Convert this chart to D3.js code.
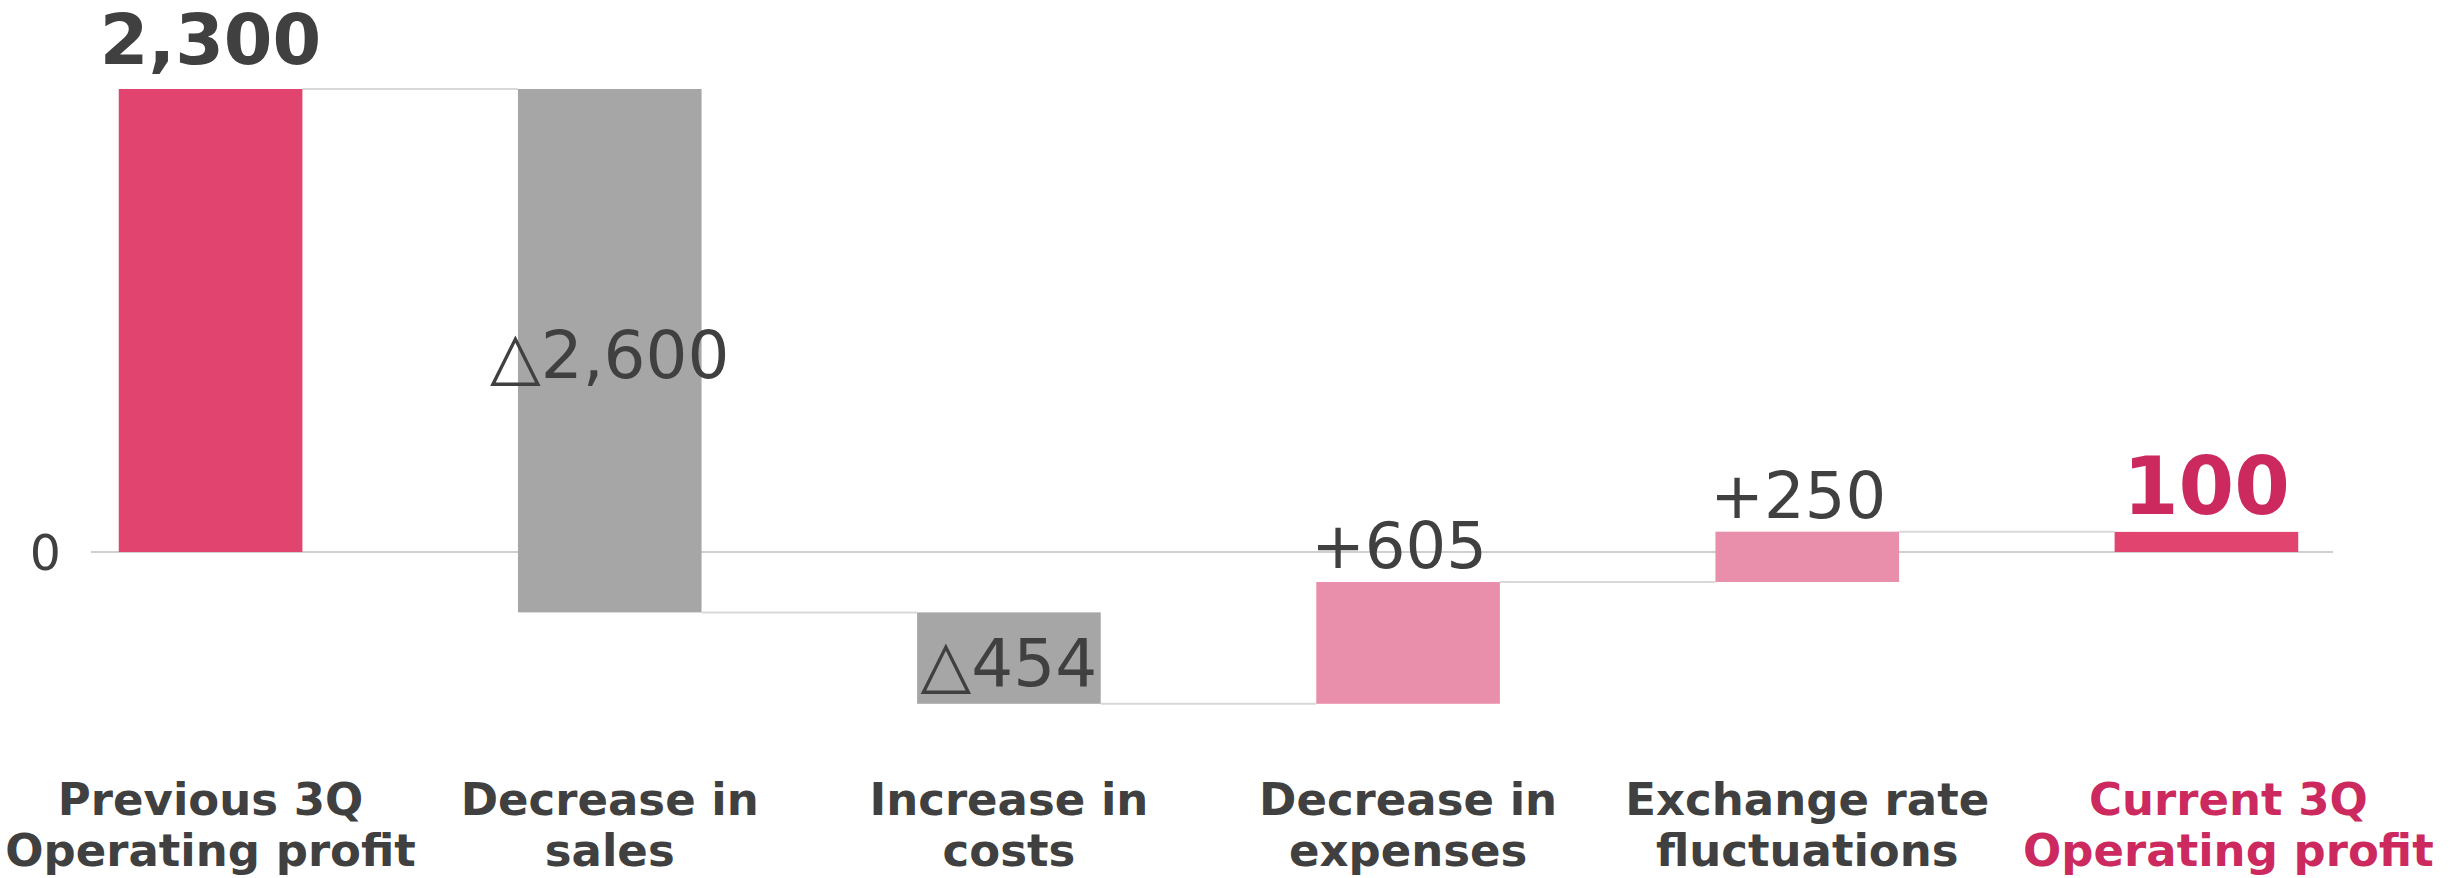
<!DOCTYPE html>
<html>
<head>
<meta charset="utf-8">
<script src="https://cdn.jsdelivr.net/npm/d3@7"></script>
<style>
  html, body { margin: 0; padding: 0; background: #ffffff; }
  svg { display: block; }
  text { font-family: "DejaVu Sans", Verdana, sans-serif; }
</style>
</head>
<body>
<svg id="chart" width="2453" height="878"></svg>
<script>
// ---- data ----
const categories = [
  "Previous 3Q\nOperating profit",
  "Decrease in\nsales",
  "Increase in\ncosts",
  "Decrease in\nexpenses",
  "Exchange rate\nfluctuations",
  "Current 3Q\nOperating profit"
];
const values = [2300, -2600, -454, 605, 250, 100];
const kinds = ["total", "delta", "delta", "delta", "delta", "total"];
const yTicks = [0];

// ---- styles ----
const COLORS = {
  total: "#E0446F",
  neg: "#A6A6A6",
  pos: "#E98FAB",
  text: "#404040",
  accent: "#CC2A5F",
  axis: "#BFBFBF",
  connector: "#D9D9D9"
};

// ---- compute waterfall ----
let running = 0;
const bars = values.map((v, i) => {
  let start, end;
  if (kinds[i] === "total") { start = 0; end = v; running = v; }
  else { start = running; end = running + v; running = end; }
  return { cat: categories[i], value: v, kind: kinds[i], start, end, i };
});

const svg = d3.select("#chart");

const x = d3.scaleBand()
  .domain(categories)
  .range([11, 2406])
  .paddingInner(0.54)
  .paddingOuter(0.27);

const y = d3.scaleLinear()
  .domain([0, 2300])
  .range([552, 89]);

// axis zero line
svg.append("line")
  .attr("x1", 91).attr("x2", 2333)
  .attr("y1", y(0)).attr("y2", y(0))
  .attr("stroke", COLORS.axis).attr("stroke-width", 1.5);

// y tick label (0)
svg.selectAll("text.ytick").data(yTicks).join("text")
  .attr("class", "ytick")
  .attr("x", 61)
  .attr("y", d => y(d))
  .attr("dy", "0.36em")
  .attr("text-anchor", "end")
  .attr("font-size", 49)
  .attr("fill", COLORS.text)
  .text(d => d3.format(",")(d));

// connectors
const conn = bars.slice(0, -1).map((b, i) => ({
  x1: x(b.cat) + x.bandwidth(),
  x2: x(bars[i + 1].cat),
  level: b.end
}));
svg.selectAll("line.conn").data(conn).join("line")
  .attr("class", "conn")
  .attr("x1", d => d.x1).attr("x2", d => d.x2)
  .attr("y1", d => y(d.level)).attr("y2", d => y(d.level))
  .attr("stroke", COLORS.connector).attr("stroke-width", 2);

// bars
function barColor(b) {
  if (b.kind === "total") return COLORS.total;
  return b.value < 0 ? COLORS.neg : COLORS.pos;
}
svg.selectAll("rect.bar").data(bars).join("rect")
  .attr("class", "bar")
  .attr("x", d => x(d.cat))
  .attr("width", x.bandwidth())
  .attr("y", d => y(Math.max(d.start, d.end)))
  .attr("height", d => Math.abs(y(d.start) - y(d.end)))
  .attr("fill", barColor);

// value labels
const fmt = d3.format(",");
function labelText(b) {
  if (b.kind === "total") return fmt(b.value);
  return b.value < 0 ? "\u25B3" + fmt(-b.value) : "+" + fmt(b.value);
}
svg.selectAll("text.vlabel").data(bars).join("text")
  .attr("class", "vlabel")
  .attr("x", d => x(d.cat) + x.bandwidth() / 2)
  .attr("y", d => {
    const top = y(Math.max(d.start, d.end));
    const bot = y(Math.min(d.start, d.end));
    if (d.kind === "total") return top - (d.i === 0 ? 25 : 18);
    if (d.value < 0) return (top + bot) / 2;
    return top - 14;
  })
  .attr("dx", d => (d.kind === "delta" && d.value > 0) ? -9 : 0)
  .attr("dy", d => (d.kind === "delta" && d.value < 0) ? "0.42em" : null)
  .attr("text-anchor", "middle")
  .attr("font-size", d => d.kind === "total" ? (d.i === 0 ? 70 : 80) : (d.value > 0 ? 64 : 66))
  .attr("font-weight", d => d.kind === "total" ? "bold" : "normal")
  .attr("fill", d => (d.kind === "total" && d.i === bars.length - 1) ? COLORS.accent : COLORS.text)
  .text(labelText);

// category labels
const last = bars.length - 1;
const cl = svg.selectAll("text.cat").data(bars).join("text")
  .attr("class", "cat")
  .attr("y", 815)
  .attr("text-anchor", "middle")
  .attr("font-size", 45)
  .attr("font-weight", "bold")
  .attr("fill", d => d.i === last ? COLORS.accent : COLORS.text);
cl.selectAll("tspan")
  .data(d => d.cat.split("\n").map(t => ({ t, cx: x(d.cat) + x.bandwidth() / 2 + (d.i === last ? 22 : 0) })))
  .join("tspan")
  .attr("x", d => d.cx)
  .attr("dy", (d, i) => i === 0 ? 0 : 51)
  .text(d => d.t);
</script>
</body>
</html>
